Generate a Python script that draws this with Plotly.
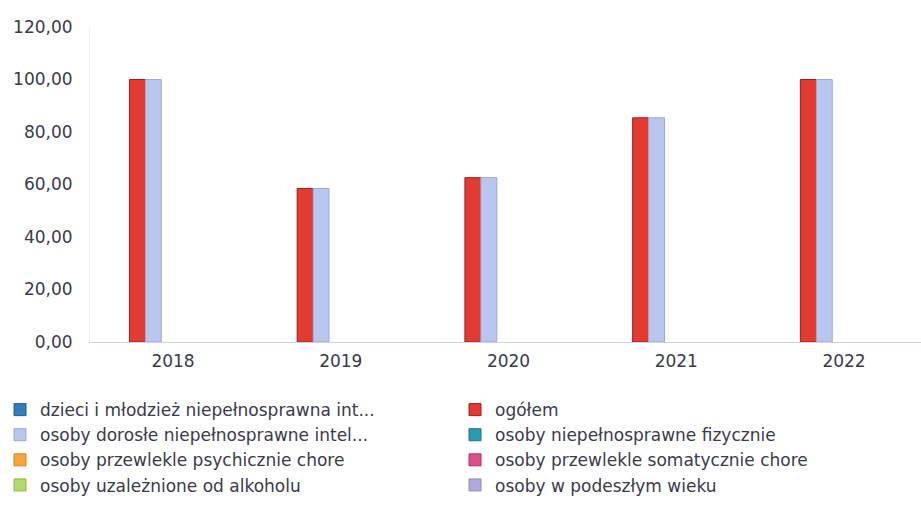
import plotly.graph_objects as go

years = ["2018", "2019", "2020", "2021", "2022"]
series_names = [
    "dzieci i młodzież niepełnosprawna int...",
    "ogółem",
    "osoby dorosłe niepełnosprawne intel...",
    "osoby niepełnosprawne fizycznie",
    "osoby przewlekle psychicznie chore",
    "osoby przewlekle somatycznie chore",
    "osoby uzależnione od alkoholu",
    "osoby w podeszłym wieku",
]
ogolem = [100.0, 58.5, 62.6, 85.4, 100.0]
dorosle = [100.0, 58.5, 62.6, 85.4, 100.0]
empty = [None, None, None, None, None]
series_values = [empty, ogolem, dorosle, empty, empty, empty, empty, empty]

colors = ["#2f7fb8", "#e23c32", "#b9c7ee", "#2a9bb0", "#f7a541", "#d9508a", "#b6d96a", "#b3a8dc"]
line_colors = ["#1f5f90", "#a81818", "#9aa9d8", "#1c7488", "#d98520", "#b03068", "#90b848", "#9088c0"]

# bar placement (style): offsets/widths in category units
offsets = [None, -0.260, -0.165, None, None, None, None, None]
widths = [None, 0.095, 0.095, None, None, None, None, None]

FONT = "DejaVu Sans, Verdana, sans-serif"
TXT = "#3a3a4a"
FS = 17

fig = go.Figure()
for i, name in enumerate(series_names):
    kw = {}
    if offsets[i] is not None:
        kw["offset"] = offsets[i]
        kw["width"] = widths[i]
    fig.add_trace(go.Bar(
        x=years, y=series_values[i], name=name,
        marker=dict(color=colors[i], line=dict(color=line_colors[i], width=1)),
        **kw,
    ))

fig.update_layout(
    width=921, height=510,
    margin=dict(l=90, r=0, t=27, b=168, autoexpand=False),
    paper_bgcolor="white", plot_bgcolor="white",
    separators=", ",
    font=dict(family=FONT, size=FS, color=TXT),
    barmode="group",
    showlegend=True,
    legend=dict(
        orientation="h", x=-0.1083, xanchor="left",
        y=-0.159, yanchor="top",
        entrywidth=410, entrywidthmode="pixels",
        font=dict(family=FONT, size=FS, color=TXT),
        itemwidth=30,
        traceorder="normal",
    ),
    xaxis=dict(
        type="category", range=[-0.495, 4.459],
        showline=True, linecolor="#ccd6eb", linewidth=1,
        ticks="", showgrid=False, ticklabelstandoff=4,
        tickfont=dict(family=FONT, size=FS, color=TXT),
    ),
    yaxis=dict(
        range=[0, 120], tickvals=[0, 20, 40, 60, 80, 100, 120],
        tickformat=",.2f", showgrid=False, zeroline=False,
        showline=True, linecolor="#f0f0f4", linewidth=1,
        tickfont=dict(family=FONT, size=FS, color=TXT),
        ticklen=0, ticklabelstandoff=13,
    ),
)
fig.write_html("out.html", config={"displayModeBar": False},
               post_script="document.body.style.margin='0';")
